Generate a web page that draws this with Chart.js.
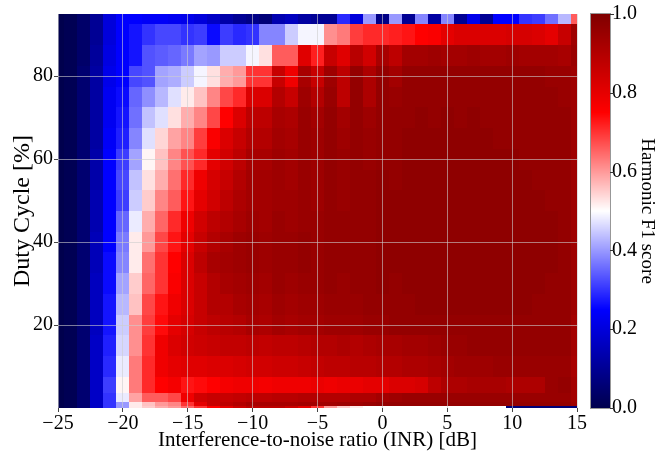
<!DOCTYPE html>
<html>
<head>
<meta charset="utf-8">
<script src="https://cdn.jsdelivr.net/npm/chart.js@4.4.0/dist/chart.umd.min.js"></script>
<style>
  html, body { margin: 0; padding: 0; background: #fff; }
  canvas { display: block; }
</style>
</head>
<body>
<canvas id="heatmap" width="672" height="454"></canvas>
<script>
// DATA
// INR columns (dB) and duty cycle rows (%)
const inrDb = [-25,-24,-23,-22,-21,-20,-19,-18,-17,-16,-15,-14,-13,-12,-11,-10,-9,-8,-7,-6,-5,-4,-3,-2,-1,0,1,2,3,4,5,6,7,8,9,10,11,12,13,14,15];
const dutyCycle = [0,1,2,5,10,15,20,25,30,35,40,45,50,55,60,65,70,75,80,85,90,95];
const xTicks = [-25,-20,-15,-10,-5,0,5,10,15];
const yTicks = [20,40,60,80];
const cbTicks = [0,0.2,0.4,0.6,0.8,1.0];

// harmonic F1 score, one array per duty cycle row, left to right along inrDb
const f1Dc0  = [0.0,0.01,0.05,0.17,0.3, 0.4,0.52,0.55,0.58,0.6, 0.65,0.7,0.75,0.8,0.85, 0.88,0.88,0.88,0.85,0.8, 0.7,0.6,0.55,0.52,0.5, 0.5,0.5,0.5,0.5,0.5, 0.5,0.5,0.5,0.5,0.5, 0.06,0.06,0.06,0.06,0.06, 0.06];
const f1Dc1  = [0.0,0.01,0.05,0.17,0.3, 0.4,0.52,0.56,0.6,0.62, 0.7,0.8,0.86,0.88,0.9, 0.92,0.92,0.92,0.92,0.93, 0.93,0.93,0.94,0.94,0.95, 0.96,0.96,0.96,0.96,0.96, 0.96,0.96,0.96,0.96,0.96, 0.96,0.96,0.96,0.96,0.96, 0.94];
const f1Dc2  = [0.0,0.01,0.05,0.17,0.3, 0.48,0.59,0.66,0.66,0.68, 0.78,0.84,0.86,0.86,0.87, 0.88,0.88,0.89,0.89,0.9, 0.9,0.9,0.9,0.91,0.91, 0.93,0.94,0.95,0.95,0.95, 0.95,0.95,0.95,0.95,0.95, 0.95,0.95,0.95,0.95,0.95, 0.93];
const f1Dc5  = [0.0,0.01,0.05,0.17,0.31, 0.51,0.63,0.71,0.75,0.77, 0.73,0.74,0.75,0.77,0.78, 0.78,0.77,0.78,0.78,0.78, 0.79,0.78,0.79,0.79,0.8, 0.8,0.82,0.82,0.83,0.88, 0.91,0.91,0.92,0.92,0.92, 0.91,0.91,0.91,0.95,0.96, 0.93];
const f1Dc10 = [0.0,0.01,0.05,0.17,0.29, 0.48,0.63,0.71,0.78,0.8, 0.81,0.81,0.82,0.82,0.83, 0.84,0.84,0.85,0.85,0.86, 0.87,0.88,0.88,0.89,0.89, 0.9,0.9,0.91,0.91,0.92, 0.93,0.94,0.94,0.94,0.95, 0.95,0.95,0.95,0.95,0.95, 0.92];
const f1Dc15 = [0.0,0.01,0.05,0.17,0.28, 0.46,0.61,0.7,0.78,0.82, 0.84,0.85,0.86,0.87,0.87, 0.88,0.87,0.88,0.88,0.89, 0.9,0.9,0.91,0.9,0.91, 0.92,0.92,0.93,0.93,0.94, 0.95,0.95,0.96,0.96,0.96, 0.96,0.96,0.96,0.96,0.96, 0.93];
const f1Dc20 = [0.0,0.01,0.05,0.16,0.27, 0.45,0.61,0.69,0.74,0.8, 0.83,0.86,0.88,0.89,0.9, 0.92,0.91,0.93,0.92,0.93, 0.93,0.94,0.94,0.94,0.95, 0.95,0.96,0.96,0.96,0.96, 0.96,0.96,0.96,0.96,0.96, 0.96,0.96,0.96,0.96,0.96, 0.93];
const f1Dc25 = [0.0,0.01,0.05,0.16,0.27, 0.43,0.56,0.68,0.73,0.78, 0.82,0.86,0.9,0.9,0.92, 0.93,0.92,0.94,0.93,0.94, 0.94,0.95,0.95,0.95,0.96, 0.96,0.96,0.96,0.97,0.97, 0.97,0.97,0.97,0.97,0.97, 0.97,0.97,0.96,0.96,0.96, 0.94];
const f1Dc30 = [0.0,0.01,0.05,0.16,0.26, 0.41,0.55,0.65,0.7,0.76, 0.82,0.86,0.9,0.92,0.93, 0.94,0.93,0.95,0.94,0.95, 0.95,0.96,0.95,0.96,0.96, 0.97,0.96,0.97,0.97,0.97, 0.97,0.97,0.97,0.97,0.97, 0.97,0.97,0.97,0.96,0.96, 0.94];
const f1Dc35 = [0.0,0.01,0.05,0.15,0.26, 0.38,0.52,0.64,0.7,0.75, 0.82,0.88,0.92,0.93,0.94, 0.95,0.94,0.95,0.95,0.96, 0.95,0.96,0.96,0.96,0.96, 0.97,0.97,0.97,0.97,0.97, 0.97,0.97,0.97,0.97,0.97, 0.97,0.97,0.97,0.97,0.96, 0.94];
const f1Dc40 = [0.0,0.01,0.05,0.15,0.25, 0.37,0.52,0.6,0.68,0.73, 0.8,0.86,0.9,0.92,0.94, 0.95,0.94,0.95,0.95,0.96, 0.95,0.96,0.96,0.96,0.96, 0.97,0.97,0.97,0.97,0.97, 0.97,0.97,0.97,0.97,0.97, 0.97,0.97,0.97,0.97,0.96, 0.94];
const f1Dc45 = [0.0,0.01,0.05,0.14,0.25, 0.35,0.48,0.58,0.65,0.71, 0.78,0.84,0.88,0.9,0.92, 0.94,0.93,0.95,0.94,0.95, 0.95,0.96,0.96,0.96,0.96, 0.97,0.97,0.97,0.97,0.97, 0.97,0.97,0.97,0.97,0.97, 0.97,0.97,0.97,0.97,0.96, 0.94];
const f1Dc50 = [0.0,0.01,0.05,0.14,0.25, 0.31,0.45,0.55,0.62,0.66, 0.73,0.8,0.84,0.88,0.91, 0.93,0.93,0.94,0.94,0.95, 0.94,0.96,0.95,0.96,0.96, 0.97,0.97,0.97,0.97,0.97, 0.97,0.97,0.97,0.97,0.97, 0.97,0.97,0.97,0.96,0.96, 0.94];
const f1Dc55 = [0.0,0.01,0.05,0.13,0.25, 0.32,0.44,0.53,0.58,0.64, 0.71,0.78,0.83,0.86,0.9, 0.93,0.93,0.94,0.93,0.95, 0.94,0.96,0.95,0.96,0.96, 0.97,0.96,0.97,0.97,0.97, 0.97,0.97,0.97,0.97,0.97, 0.97,0.97,0.96,0.96,0.96, 0.94];
const f1Dc60 = [0.0,0.01,0.05,0.13,0.25, 0.31,0.41,0.51,0.56,0.62, 0.67,0.71,0.8,0.84,0.88, 0.92,0.92,0.94,0.93,0.95, 0.94,0.96,0.95,0.96,0.95, 0.96,0.96,0.97,0.97,0.97, 0.97,0.97,0.97,0.97,0.97, 0.97,0.96,0.96,0.96,0.96, 0.94];
const f1Dc65 = [0.0,0.01,0.05,0.12,0.24, 0.28,0.38,0.47,0.54,0.59, 0.62,0.69,0.76,0.82,0.86, 0.9,0.9,0.93,0.92,0.95, 0.94,0.96,0.94,0.96,0.95, 0.96,0.96,0.97,0.97,0.97, 0.97,0.97,0.97,0.97,0.96, 0.96,0.96,0.96,0.96,0.96, 0.94];
const f1Dc70 = [0.0,0.01,0.05,0.12,0.23, 0.27,0.36,0.44,0.47,0.53, 0.58,0.62,0.68,0.75,0.82, 0.88,0.88,0.92,0.91,0.95, 0.93,0.96,0.93,0.96,0.94, 0.96,0.96,0.96,0.97,0.96, 0.97,0.96,0.97,0.96,0.96, 0.96,0.96,0.96,0.96,0.96, 0.94];
const f1Dc75 = [0.0,0.01,0.05,0.12,0.23, 0.26,0.35,0.39,0.43,0.47, 0.52,0.56,0.62,0.68,0.71, 0.82,0.82,0.9,0.86,0.94, 0.9,0.95,0.88,0.96,0.91, 0.96,0.95,0.96,0.96,0.96, 0.96,0.96,0.96,0.96,0.96, 0.96,0.96,0.96,0.96,0.95, 0.94];
const f1Dc80 = [0.0,0.01,0.05,0.12,0.22, 0.25,0.32,0.33,0.41,0.42, 0.45,0.49,0.53,0.58,0.6, 0.7,0.7,0.86,0.78,0.92, 0.86,0.94,0.88,0.96,0.91, 0.96,0.93,0.96,0.96,0.96, 0.96,0.96,0.96,0.96,0.96, 0.96,0.96,0.96,0.95,0.95, 0.94];
const f1Dc85 = [0.0,0.01,0.04,0.11,0.21, 0.25,0.27,0.33,0.34,0.35, 0.37,0.41,0.4,0.45,0.45, 0.49,0.53,0.66,0.66,0.81, 0.72,0.86,0.81,0.89,0.84, 0.92,0.88,0.93,0.93,0.94, 0.93,0.93,0.94,0.93,0.93, 0.94,0.93,0.93,0.93,0.92, 0.95];
const f1Dc90 = [0.0,0.01,0.04,0.1,0.2, 0.25,0.27,0.3,0.32,0.32, 0.3,0.31,0.26,0.31,0.29, 0.3,0.38,0.38,0.45,0.49, 0.49,0.61,0.63,0.69,0.71, 0.71,0.72,0.73,0.75,0.76, 0.8,0.82,0.82,0.82,0.82, 0.83,0.83,0.82,0.8,0.86, 0.94];
const f1Dc95 = [0.0,0.01,0.04,0.1,0.2, 0.25,0.25,0.24,0.24,0.23, 0.22,0.2,0.17,0.13,0.1, 0.08,0.06,0.14,0.16,0.12, 0.1,0.1,0.29,0.2,0.4, 0.08,0.4,0.1,0.38,0.12, 0.38,0.1,0.22,0.1,0.25, 0.25,0.3,0.31,0.36,0.43, 0.66];

const f1Rows = [f1Dc0, f1Dc1, f1Dc2, f1Dc5, f1Dc10, f1Dc15, f1Dc20, f1Dc25, f1Dc30, f1Dc35, f1Dc40,
                f1Dc45, f1Dc50, f1Dc55, f1Dc60, f1Dc65, f1Dc70, f1Dc75, f1Dc80, f1Dc85, f1Dc90, f1Dc95];

// points for the dataset, one per cell
let cells = [];
for (let i = 0; i < dutyCycle.length; i++) {
    for (let j = 0; j < inrDb.length; j++) {
        cells.push({ x: inrDb[j], y: dutyCycle[i], v: f1Rows[i][j], i: i, j: j });
    }
}

// COLORMAP (matplotlib "seismic")
function seismic(v) {
    v = Math.max(0, Math.min(1, v));
    let r, g, b;
    if (v < 0.25) {
        r = 0; g = 0; b = 0.3 + 0.7 * (v / 0.25);
    } else if (v < 0.5) {
        let t = (v - 0.25) / 0.25;
        r = t; g = t; b = 1;
    } else if (v < 0.75) {
        let t = (v - 0.5) / 0.25;
        r = 1; g = 1 - t; b = 1 - t;
    } else {
        let t = (v - 0.75) / 0.25;
        r = 1 - 0.5 * t; g = 0; b = 0;
    }
    return 'rgb(' + Math.round(r * 255) + ',' + Math.round(g * 255) + ',' + Math.round(b * 255) + ')';
}

// cell edges halfway between neighbouring values
function edges(vals) {
    let e = [];
    for (let k = 0; k <= vals.length; k++) {
        if (k === 0) e.push(vals[0] - (vals[1] - vals[0]) / 2);
        else if (k === vals.length) e.push(vals[k - 1] + (vals[k - 1] - vals[k - 2]) / 2);
        else e.push((vals[k - 1] + vals[k]) / 2);
    }
    return e;
}
const xEdges = edges(inrDb);
const yEdges = edges(dutyCycle);

// HEATMAP PLUGIN
const heatmapPlugin = {
    id: 'heatmap',
    beforeDatasetsDraw(chart) {
        const ctx = chart.ctx;
        const xs = chart.scales.x;
        const ys = chart.scales.y;
        const area = chart.chartArea;
        ctx.save();
        ctx.beginPath();
        ctx.rect(area.left, area.top, area.right - area.left, area.bottom - area.top);
        ctx.clip();
        chart.data.datasets[0].data.forEach(function(c) {
            const x0 = Math.round(xs.getPixelForValue(xEdges[c.j]));
            const x1 = Math.round(xs.getPixelForValue(xEdges[c.j + 1]));
            const y0 = Math.round(ys.getPixelForValue(yEdges[c.i + 1]));
            const y1 = Math.round(ys.getPixelForValue(yEdges[c.i]));
            ctx.fillStyle = seismic(c.v);
            ctx.fillRect(x0, y0, x1 - x0, y1 - y0);
        });
        ctx.restore();
    },
    afterDraw(chart) {
        // colorbar
        const ctx = chart.ctx;
        const cb = chart.scales.cb;
        const left = cb.left + 14;
        const right = cb.left + 33;
        const top = Math.round(cb.getPixelForValue(1));
        const bottom = Math.round(cb.getPixelForValue(0));
        ctx.save();
        for (let y = top; y < bottom; y++) {
            ctx.fillStyle = seismic(cb.getValueForPixel(y + 0.5));
            ctx.fillRect(left, y, right - left, 1);
        }
        ctx.strokeStyle = 'rgba(140,140,140,0.9)';
        ctx.lineWidth = 1;
        ctx.strokeRect(left - 0.5, top - 0.5, right - left + 1, bottom - top + 1);
        ctx.strokeStyle = '#333';
        cbTicks.forEach(function(v) {
            const py = Math.round(cb.getPixelForValue(v)) + 0.5;
            ctx.beginPath();
            ctx.moveTo(right, py);
            ctx.lineTo(right + 4, py);
            ctx.stroke();
        });
        ctx.restore();
    }
};

// CHART
Chart.defaults.font.family = "'Liberation Serif', 'Times New Roman', serif";
Chart.defaults.font.size = 20;
Chart.defaults.color = '#000';

const gridColor = 'rgba(205,205,205,0.6)';

function minusFmt(v) {
    return v < 0 ? '\u2212' + Math.abs(v) : String(v);
}
// fixed axis boxes so the plot area sits where the reference has it
function fixBox(w, h) {
    return function(s) {
        if (w) s.width = w;
        if (h) s.height = h;
        s.paddingTop = 0;
        s.paddingBottom = 0;
        s.paddingLeft = 0;
        s.paddingRight = 0;
    };
}

const ctx_heatmap = document.getElementById('heatmap');
const chart_heatmap = new Chart(ctx_heatmap, {
    type: 'scatter',
    data: {
        datasets: [{
            data: cells,
            pointRadius: 0,
            pointHoverRadius: 0
        }]
    },
    options: {
        responsive: false,
        animation: false,
        events: [],
        layout: { padding: { top: 14, left: 0, right: 0, bottom: 0 } },
        plugins: {
            legend: { display: false },
            tooltip: { enabled: false }
        },
        scales: {
            x: {
                type: 'linear',
                min: -25,
                max: 15,
                afterBuildTicks: function(s) { s.ticks = xTicks.map(v => ({ value: v })); },
                ticks: { callback: v => minusFmt(v), padding: 0, maxRotation: 0, autoSkip: false },
                grid: { color: gridColor, tickColor: '#444', tickLength: 4, z: 1 },
                border: { display: false },
                title: { display: true, text: 'Interference-to-noise ratio (INR) [dB]', font: { size: 21 }, padding: { top: 0, bottom: 1 } },
                afterFit: fixBox(0, 46)
            },
            y: {
                type: 'linear',
                min: 0,
                max: 95,
                afterBuildTicks: function(s) { s.ticks = yTicks.map(v => ({ value: v })); },
                ticks: { callback: v => minusFmt(v), padding: 1 },
                grid: { color: gridColor, tickColor: '#444', tickLength: 4, z: 1 },
                border: { display: false },
                title: { display: true, text: 'Duty Cycle [%]', font: { size: 24 }, padding: { top: 8, bottom: 0 } },
                afterFit: fixBox(58, 0)
            },
            cb: {
                type: 'linear',
                position: 'right',
                min: 0,
                max: 1,
                afterBuildTicks: function(s) { s.ticks = cbTicks.map(v => ({ value: v })); },
                ticks: { callback: v => v.toFixed(1), padding: 35 },
                grid: { display: false, drawTicks: false },
                border: { display: false },
                title: { display: true, text: 'Harmonic F1 score', font: { size: 19 }, padding: { top: 14, bottom: 0 } },
                afterFit: fixBox(95, 0)
            }
        }
    },
    plugins: [heatmapPlugin]
});
</script>
</body>
</html>
